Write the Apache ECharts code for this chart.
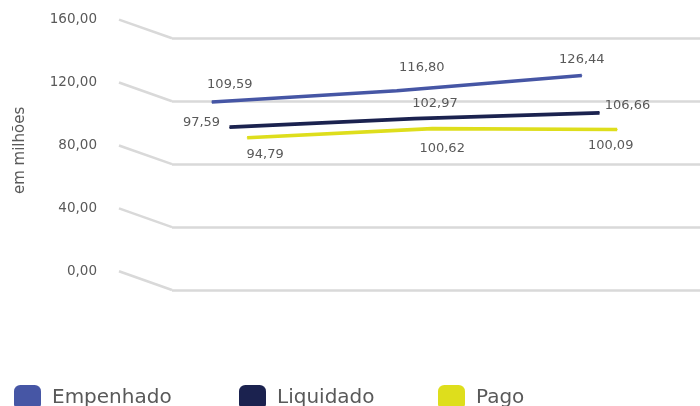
<!DOCTYPE html>
<html>
<head>
<meta charset="utf-8">
<script src="https://cdn.jsdelivr.net/npm/echarts@6/dist/echarts.min.js"></script>
<style>
html,body{margin:0;padding:0;background:#fff;}
#chart{width:700px;height:406px;}
</style>
</head>
<body>
<div id="chart"></div>
<script>
// ---- data ----
const categories = ['Período 1', 'Período 2', 'Período 3'];
const seriesNames = ['Empenhado', 'Liquidado', 'Pago'];
const empenhado = [109.59, 116.80, 126.44];
const liquidado = [97.59, 102.97, 106.66];
const pago = [94.79, 100.62, 100.09];
const yTicks = [0, 40, 80, 120, 160];
const yTitle = 'em milhões';

// ---- styling / layout ----
const colors = ['#4656A5', '#1B224F', '#DEDE1C'];
const textColor = '#595959';
const gridColor = '#D9D9D9';
const FONT = 'DejaVu Sans';
const DX = 53, DY = 18.7;             // oblique depth vector of the 3D box
const BACK = { left: 172, top: 38.3, height: 251.7 };
const PLOT = { left: 256, width: 370 };
const depth = [5 / 6, 1 / 2, 1 / 6];   // distance of each series from back wall (fraction of depth)
const labelOffsets = [
  [[18, -17], [25, -23], [0, -16]],
  [[-28, -4.5], [20.5, -15], [28, -7.5]],
  [[18, 16.5], [10, 20], [-6.5, 16]]
];
const legendLeft = [9, 234, 433];

const fmt = v => v.toFixed(2).replace('.', ',');
const seriesData = [empenhado, liquidado, pago];
const yMin = yTicks[0], yMax = yTicks[yTicks.length - 1], yInt = yTicks[1] - yTicks[0];

const grids = [
  // 0: back wall
  { left: BACK.left, right: 0, top: BACK.top, height: BACK.height },
  // 1: front edge (axis labels)
  { left: BACK.left - DX, width: 10, top: BACK.top - DY, height: BACK.height }
];
const xAxes = [
  { gridIndex: 0, type: 'category', data: categories, show: false },
  { gridIndex: 1, type: 'category', data: categories, show: false }
];
const yAxes = [
  { gridIndex: 0, type: 'value', min: yMin, max: yMax, interval: yInt,
    axisLine: { show: false }, axisTick: { show: false }, axisLabel: { show: false },
    splitLine: { show: true, lineStyle: { color: gridColor, width: 2.5 } } },
  { gridIndex: 1, type: 'value', min: yMin, max: yMax, interval: yInt,
    axisLine: { show: false }, axisTick: { show: false }, splitLine: { show: false },
    axisLabel: { show: true, margin: 22, color: textColor, fontFamily: FONT, fontSize: 13.5,
      formatter: v => fmt(v) },
    name: yTitle, nameLocation: 'middle', nameRotate: 90, nameGap: 91,
    nameTextStyle: { color: textColor, fontFamily: FONT, fontSize: 15, padding: [0, 10, 0, 0] } }
];

const series = [
  {
    type: 'custom', xAxisIndex: 0, yAxisIndex: 0, clip: false, silent: true, z: 1,
    data: yTicks.map(v => [0, v]),
    renderItem: function (params, api) {
      const cs = params.coordSys;
      const y = api.coord([api.value(0), api.value(1)])[1];
      return {
        type: 'line',
        shape: { x1: cs.x - DX, y1: y - DY, x2: cs.x, y2: y },
        style: { stroke: gridColor, lineWidth: 2.5 }
      };
    }
  }
];

seriesNames.forEach((name, i) => {
  const f = depth[i];
  const gi = grids.length;
  grids.push({ left: PLOT.left - f * DX, width: PLOT.width, top: BACK.top - f * DY, height: BACK.height });
  xAxes.push({ gridIndex: gi, type: 'category', data: categories, boundaryGap: false, show: false });
  yAxes.push({ gridIndex: gi, type: 'value', min: yMin, max: yMax, interval: yInt, show: false,
    splitLine: { show: false } });
  series.push({
    name: name,
    type: 'line',
    xAxisIndex: gi, yAxisIndex: gi,
    z: 10 + (seriesNames.length - i),
    color: colors[i],
    symbol: 'circle', symbolSize: 1, showSymbol: true,
    lineStyle: { width: 3.6, color: colors[i] },
    itemStyle: { color: colors[i] },
    emphasis: { disabled: true },
    data: seriesData[i].map((v, j) => ({
      value: v,
      label: { offset: labelOffsets[i][j] }
    })),
    label: {
      show: true, position: 'inside', color: textColor, fontFamily: FONT, fontSize: 13,
      formatter: p => fmt(p.value)
    }
  });
});

const legends = seriesNames.map((name, i) => ({
  data: [name], left: legendLeft[i], top: 380,
  icon: 'roundRect', itemWidth: 27, itemHeight: 25,
  textStyle: { color: textColor, fontFamily: FONT, fontSize: 20, padding: [0, 0, 0, 6] },
  selectedMode: false
}));

const chart = echarts.init(document.getElementById('chart'), null, { renderer: 'canvas' });
chart.setOption({
  animation: false,
  backgroundColor: '#ffffff',
  grid: grids,
  xAxis: xAxes,
  yAxis: yAxes,
  legend: legends,
  series: series
});
</script>
</body>
</html>
